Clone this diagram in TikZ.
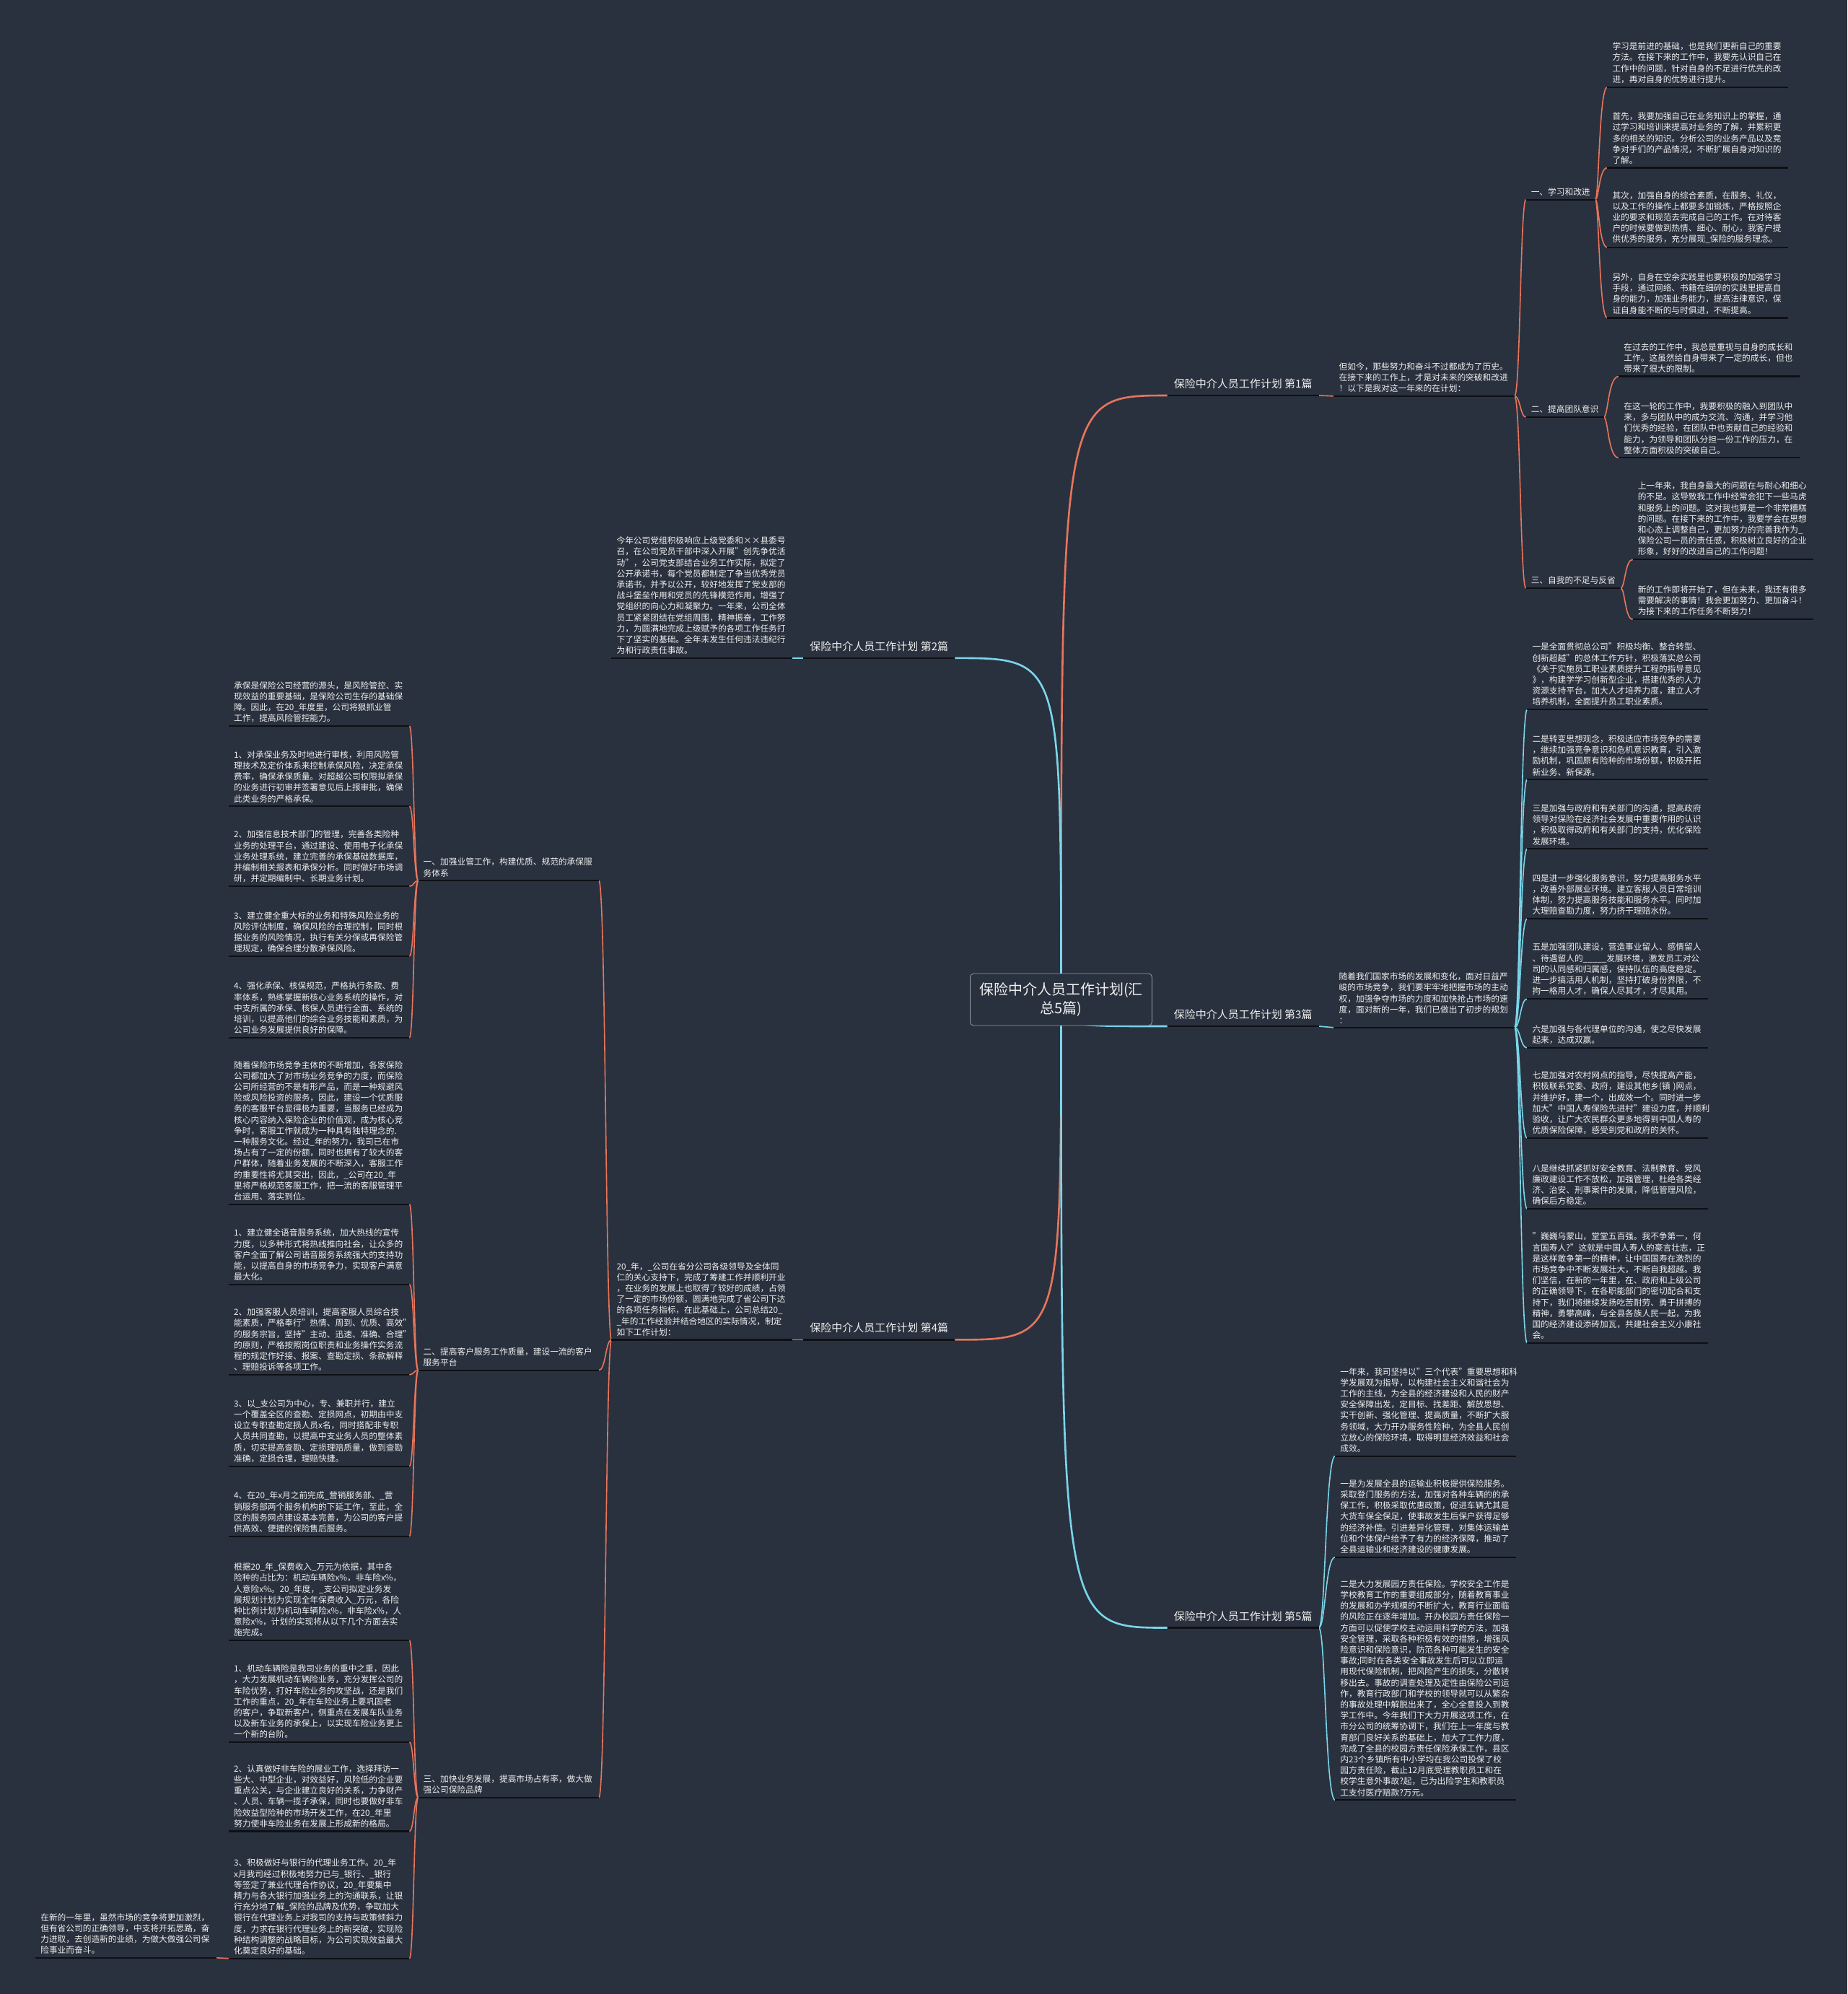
\documentclass[tikz,border=0pt]{standalone}
\usepackage{fontspec}
\setmainfont{Noto Sans CJK SC}
\definecolor{bgc}{RGB}{42,49,62}
\definecolor{txtc}{RGB}{238,238,238}
\definecolor{ulc}{RGB}{14,16,21}
\definecolor{coral}{RGB}{232,117,92}
\definecolor{skyc}{RGB}{122,214,234}
\definecolor{boxc}{RGB}{150,156,165}
\pgfdeclarelayer{back}
\pgfdeclarelayer{links}
\pgfsetlayers{back,links,main}
\tikzset{
  uline/.style={draw=ulc, line width=2.2pt},
  txt/.style={
    font=\fontsize{11.7pt}{15.2pt}\selectfont,
    text=txtc, align=left, inner xsep=7pt, inner ysep=5pt,
    append after command={(\tikzlastnode.south west) edge[uline] (\tikzlastnode.south east)}
  },
  leaf/.style={txt, text width=236pt},
  title/.style={
    font=\fontsize{15pt}{18pt}\selectfont,
    text=txtc, inner xsep=9pt, inner ysep=9pt,
    append after command={(\tikzlastnode.south west) edge[uline] (\tikzlastnode.south east)}
  },
  rootbox/.style={
    draw=boxc, line width=0.8pt, fill=bgc, rounded corners=5pt,
    text=txtc, font=\fontsize{20pt}{26pt}\selectfont, align=center,
    minimum width=252pt, minimum height=72pt, inner sep=4pt
  },
  redmain/.style={draw=coral, line width=2.6pt},
  redsub/.style={draw=coral, line width=1.6pt},
  bluemain/.style={draw=skyc, line width=2.6pt},
  bluesub/.style={draw=skyc, line width=1.6pt}
}
\begin{document}
\begin{tikzpicture}[x=1.762pt, y=-1.762pt]
  \useasboundingbox (0,0) rectangle (1453,1568);
  \begin{pgfonlayer}{back}
    \fill[bgc] (0,0) rectangle (1453,1568);
  \end{pgfonlayer}

  % Central topic
  \node[rootbox] (root) at (834.5,786) {保险中介人员工作计划(汇\\总5篇)};

  % Part 1 (upper right)
  \node[title, anchor=south west] (p1) at (918,311) {保险中介人员工作计划 第1篇};
  \node[leaf, anchor=south west] (p1i) at (1049,311.5) {但如今，那些努力和奋斗不过都成为了历史。\\在接下来的工作上，才是对未来的突破和改进\\！以下是我对这一年来的在计划：};
  \node[txt, anchor=south west] (s11) at (1200,157) {一、学习和改进};
  \node[txt, anchor=south west] (s12) at (1200,328) {二、提高团队意识};
  \node[txt, anchor=south west] (s13) at (1200,462.5) {三、自我的不足与反省};

  \node[leaf, anchor=south west] (l111) at (1264,68.5) {学习是前进的基础，也是我们更新自己的重要\\方法。在接下来的工作中，我要先认识自己在\\工作中的问题，针对自身的不足进行优先的改\\进，再对自身的优势进行提升。};
  \node[leaf, anchor=south west] (l112) at (1264,132) {首先，我要加强自己在业务知识上的掌握，通\\过学习和培训来提高对业务的了解，并累积更\\多的相关的知识。分析公司的业务产品以及竞\\争对手们的产品情况，不断扩展自身对知识的\\了解。};
  \node[leaf, anchor=south west] (l113) at (1264,194.5) {其次，加强自身的综合素质，在服务、礼仪，\\以及工作的操作上都要多加锻炼，严格按照企\\业的要求和规范去完成自己的工作。在对待客\\户的时候要做到热情、细心、耐心，我客户提\\供优秀的服务，充分展现\_保险的服务理念。};
  \node[leaf, anchor=south west] (l114) at (1264,250) {另外，自身在空余实践里也要积极的加强学习\\手段，通过网络、书籍在细碎的实践里提高自\\身的能力，加强业务能力，提高法律意识，保\\证自身能不断的与时俱进，不断提高。};
  \node[leaf, anchor=south west] (l121) at (1273,296) {在过去的工作中，我总是重视与自身的成长和\\工作。这虽然给自身带来了一定的成长，但也\\带来了很大的限制。};
  \node[leaf, anchor=south west] (l122) at (1273,360) {在这一轮的工作中，我要积极的融入到团队中\\来，多与团队中的成为交流、沟通，并学习他\\们优秀的经验，在团队中也贡献自己的经验和\\能力，为领导和团队分担一份工作的压力，在\\整体方面积极的突破自己。};
  \node[leaf, anchor=south west] (l131) at (1284,440) {上一年来，我自身最大的问题在与耐心和细心\\的不足。这导致我工作中经常会犯下一些马虎\\和服务上的问题。这对我也算是一个非常糟糕\\的问题。在接下来的工作中，我要学会在思想\\和心态上调整自己，更加努力的完善我作为\_\\保险公司一员的责任感，积极树立良好的企业\\形象，好好的改进自己的工作问题！};
  \node[leaf, anchor=south west] (l132) at (1284,487) {新的工作即将开始了，但在未来，我还有很多\\需要解决的事情！我会更加努力、更加奋斗！\\为接下来的工作任务不断努力！};

  % Part 2 (upper left)
  \node[title, anchor=south east] (p2) at (751,517.5) {保险中介人员工作计划 第2篇};
  \node[leaf, anchor=south east] (p2i) at (623,517.5) {今年公司党组积极响应上级党委和××县委号\\召，在公司党员干部中深入开展"创先争优活\\动"，公司党支部结合业务工作实际，拟定了\\公开承诺书，每个党员都制定了争当优秀党员\\承诺书，并予以公开，较好地发挥了党支部的\\战斗堡垒作用和党员的先锋模范作用，增强了\\党组织的向心力和凝聚力。一年来，公司全体\\员工紧紧团结在党组周围，精神振奋，工作努\\力，为圆满地完成上级赋予的各项工作任务打\\下了坚实的基础。全年未发生任何违法违纪行\\为和行政责任事故。};

  % Part 3 (middle right)
  \node[title, anchor=south west] (p3) at (918,807) {保险中介人员工作计划 第3篇};
  \node[leaf, anchor=south west] (p3i) at (1049,808) {随着我们国家市场的发展和变化，面对日益严\\峻的市场竞争，我们要牢牢地把握市场的主动\\权，加强争夺市场的力度和加快抢占市场的速\\度，面对新的一年，我们已做出了初步的规划\\：};
  \node[leaf, anchor=south west] (l31) at (1201,558) {一是全面贯彻总公司"积极均衡、整合转型、\\创新超越"的总体工作方针，积极落实总公司\\《关于实施员工职业素质提升工程的指导意见\\》，构建学学习创新型企业，搭建优秀的人力\\资源支持平台，加大人才培养力度，建立人才\\培养机制，全面提升员工职业素质。};
  \node[leaf, anchor=south west] (l32) at (1201,613) {二是转变思想观念，积极适应市场竞争的需要\\，继续加强竞争意识和危机意识教育，引入激\\励机制，巩固原有险种的市场份额，积极开拓\\新业务、新保源。};
  \node[leaf, anchor=south west] (l33) at (1201,667.5) {三是加强与政府和有关部门的沟通，提高政府\\领导对保险在经济社会发展中重要作用的认识\\，积极取得政府和有关部门的支持，优化保险\\发展环境。};
  \node[leaf, anchor=south west] (l34) at (1201,722.5) {四是进一步强化服务意识，努力提高服务水平\\，改善外部展业环境。建立客服人员日常培训\\体制，努力提高服务技能和服务水平。同时加\\大理赔查勘力度，努力挤干理赔水份。};
  \node[leaf, anchor=south west] (l35) at (1201,785.5) {五是加强团队建设，营造事业留人、感情留人\\、待遇留人的\_\_\_\_\_发展环境，激发员工对公\\司的认同感和归属感，保持队伍的高度稳定。\\进一步搞活用人机制，坚持打破身份界限，不\\拘一格用人才，确保人尽其才，才尽其用。};
  \node[leaf, anchor=south west] (l36) at (1201,824) {六是加强与各代理单位的沟通，使之尽快发展\\起来，达成双赢。};
  \node[leaf, anchor=south west] (l37) at (1201,895) {七是加强对农村网点的指导，尽快提高产能，\\积极联系党委、政府，建设其他乡(镇 )网点，\\并维护好，建一个，出成效一个。同时进一步\\加大"中国人寿保险先进村"建设力度，并顺利\\验收，让广大农民群众更多地得到中国人寿的\\优质保险保障，感受到党和政府的关怀。};
  \node[leaf, anchor=south west] (l38) at (1201,950.5) {八是继续抓紧抓好安全教育、法制教育、党风\\廉政建设工作不放松，加强管理，杜绝各类经\\济、治安、刑事案件的发展，降低管理风险，\\确保后方稳定。};
  \node[leaf, anchor=south west] (l39) at (1201,1056) {"巍巍乌蒙山，堂堂五百强。我不争第一，何\\言国寿人?"这就是中国人寿人的豪言壮志，正\\是这样敢争第一的精神，让中国国寿在激烈的\\市场竞争中不断发展壮大，不断自我超越。我\\们坚信，在新的一年里，在、政府和上级公司\\的正确领导下，在各职能部门的密切配合和支\\持下，我们将继续发扬吃苦耐劳、勇于拼搏的\\精神，勇攀高峰，与全县各族人民一起，为我\\国的经济建设添砖加瓦，共建社会主义小康社\\会。};

  % Part 4 (lower left)
  \node[title, anchor=south east] (p4) at (751,1053.5) {保险中介人员工作计划 第4篇};
  \node[leaf, anchor=south east] (p4i) at (623,1053.5) {20\_年，\_公司在省分公司各级领导及全体同\\仁的关心支持下，完成了筹建工作并顺利开业\\，在业务的发展上也取得了较好的成绩，占领\\了一定的市场份额，圆满地完成了省公司下达\\的各项任务指标，在此基础上，公司总结20\_\\\_年的工作经验并结合地区的实际情况，制定\\如下工作计划：};
  \node[leaf, anchor=south east] (s41) at (471,692.5) {一、加强业管工作，构建优质、规范的承保服\\务体系};
  \node[leaf, anchor=south east] (s42) at (471,1077.5) {二、提高客户服务工作质量，建设一流的客户\\服务平台};
  \node[leaf, anchor=south east] (s43) at (471,1413.5) {三、加快业务发展，提高市场占有率，做大做\\强公司保险品牌};

  \node[leaf, anchor=south east] (l411) at (322,571) {承保是保险公司经营的源头，是风险管控、实\\现效益的重要基础，是保险公司生存的基础保\\障。因此，在20\_年度里，公司将狠抓业管\\工作，提高风险管控能力。};
  \node[leaf, anchor=south east] (l412) at (322,634) {1、对承保业务及时地进行审核，利用风险管\\理技术及定价体系来控制承保风险，决定承保\\费率，确保承保质量。对超越公司权限拟承保\\的业务进行初审并签署意见后上报审批，确保\\此类业务的严格承保。};
  \node[leaf, anchor=south east] (l413) at (322,697) {2、加强信息技术部门的管理，完善各类险种\\业务的处理平台，通过建设、使用电子化承保\\业务处理系统，建立完善的承保基础数据库，\\并编制相关报表和承保分析。同时做好市场调\\研，并定期编制中、长期业务计划。};
  \node[leaf, anchor=south east] (l414) at (322,752) {3、建立健全重大标的业务和特殊风险业务的\\风险评估制度，确保风险的合理控制，同时根\\据业务的风险情况，执行有关分保或再保险管\\理规定，确保合理分散承保风险。};
  \node[leaf, anchor=south east] (l415) at (322,816) {4、强化承保、核保规范，严格执行条款、费\\率体系，熟练掌握新核心业务系统的操作，对\\中支所属的承保、核保人员进行全面、系统的\\培训，以提高他们的综合业务技能和素质，为\\公司业务发展提供良好的保障。};

  \node[leaf, anchor=south east] (l421) at (322,947) {随着保险市场竞争主体的不断增加，各家保险\\公司都加大了对市场业务竞争的力度，而保险\\公司所经营的不是有形产品，而是一种规避风\\险或风险投资的服务，因此，建设一个优质服\\务的客服平台显得极为重要，当服务已经成为\\核心内容纳入保险企业的价值观，成为核心竞\\争时，客服工作就成为一种具有独特理念的.\\一种服务文化。经过\_年的努力，我司已在市\\场占有了一定的份额，同时也拥有了较大的客\\户群体，随着业务发展的不断深入，客服工作\\的重要性将尤其突出，因此，\_公司在20\_年\\里将严格规范客服工作，把一流的客服管理平\\台运用、落实到位。};
  \node[leaf, anchor=south east] (l422) at (322,1010) {1、建立健全语音服务系统，加大热线的宣传\\力度，以多种形式将热线推向社会，让众多的\\客户全面了解公司语音服务系统强大的支持功\\能，以提高自身的市场竞争力，实现客户满意\\最大化。};
  \node[leaf, anchor=south east] (l423) at (322,1081) {2、加强客服人员培训，提高客服人员综合技\\能素质，严格奉行"热情、周到、优质、高效"\\的服务宗旨，坚持"主动、迅速、准确、合理"\\的原则，严格按照岗位职责和业务操作实务流\\程的规定作好接、报案、查勘定损、条款解释\\、理赔投诉等各项工作。};
  \node[leaf, anchor=south east] (l424) at (322,1153) {3、以\_支公司为中心，专、兼职并行，建立\\一个覆盖全区的查勘、定损网点，初期由中支\\设立专职查勘定损人员x名，同时搭配非专职\\人员共同查勘，以提高中支业务人员的整体素\\质，切实提高查勘、定损理赔质量，做到查勘\\准确，定损合理，理赔快捷。};
  \node[leaf, anchor=south east] (l425) at (322,1208) {4、在20\_年x月之前完成\_营销服务部、\_营\\销服务部两个服务机构的下延工作，至此，全\\区的服务网点建设基本完善，为公司的客户提\\供高效、便捷的保险售后服务。};

  \node[leaf, anchor=south east] (l431) at (322,1290) {根据20\_年\_保费收入\_万元为依据，其中各\\险种的占比为：机动车辆险x\%，非车险x\%，\\人意险x\%。20\_年度，\_支公司拟定业务发\\展规划计划为实现全年保费收入\_万元，各险\\种比例计划为机动车辆险x\%，非车险x\%，人\\意险x\%，计划的实现将从以下几个方面去实\\施完成。};
  \node[leaf, anchor=south east] (l432) at (322,1370) {1、机动车辆险是我司业务的重中之重，因此\\，大力发展机动车辆险业务，充分发挥公司的\\车险优势，打好车险业务的攻坚战，还是我们\\工作的重点，20\_年在车险业务上要巩固老\\的客户，争取新客户，侧重点在发展车队业务\\以及新车业务的承保上，以实现车险业务更上\\一个新的台阶。};
  \node[leaf, anchor=south east] (l433) at (322,1440) {2、认真做好非车险的展业工作，选择拜访一\\些大、中型企业，对效益好，风险低的企业要\\重点公关，与企业建立良好的关系，力争财产\\、人员、车辆一揽子承保，同时也要做好非车\\险效益型险种的市场开发工作，在20\_年里\\努力使非车险业务在发展上形成新的格局。};
  \node[leaf, anchor=south east] (l434) at (322,1540) {3、积极做好与银行的代理业务工作。20\_年\\x月我司经过积极地努力已与\_银行、\_银行\\等签定了兼业代理合作协议，20\_年要集中\\精力与各大银行加强业务上的沟通联系，让银\\行充分地了解\_保险的品牌及优势，争取加大\\银行在代理业务上对我司的支持与政策倾斜力\\度，力求在银行代理业务上的新突破，实现险\\种结构调整的战略目标，为公司实现效益最大\\化奠定良好的基础。};
  \node[leaf, anchor=south east] (bl) at (170,1539.5) {在新的一年里，虽然市场的竞争将更加激烈，\\但有省公司的正确领导，中支将开拓思路，奋\\力进取，去创造新的业绩，为做大做强公司保\\险事业而奋斗。};

  % Part 5 (lower right)
  \node[title, anchor=south west] (p5) at (918,1280) {保险中介人员工作计划 第5篇};
  \node[leaf, anchor=south west] (l51) at (1050,1145) {一年来，我司坚持以"三个代表"重要思想和科\\学发展观为指导，以构建社会主义和谐社会为\\工作的主线，为全县的经济建设和人民的财产\\安全保障出发，定目标、找差距、解放思想、\\实干创新、强化管理、提高质量，不断扩大服\\务领域，大力开办服务性险种，为全县人民创\\立放心的保险环境，取得明显经济效益和社会\\成效。};
  \node[leaf, anchor=south west] (l52) at (1050,1224.5) {一是为发展全县的运输业积极提供保险服务。\\采取登门服务的方法，加强对各种车辆的的承\\保工作，积极采取优惠政策，促进车辆尤其是\\大货车保全保足，使事故发生后保户获得足够\\的经济补偿。引进差异化管理，对集体运输单\\位和个体保户给予了有力的经济保障，推动了\\全县运输业和经济建设的健康发展。};
  \node[leaf, anchor=south west] (l53) at (1050,1415.5) {二是大力发展园方责任保险。学校安全工作是\\学校教育工作的重要组成部分，随着教育事业\\的发展和办学规模的不断扩大，教育行业面临\\的风险正在逐年增加。开办校园方责任保险一\\方面可以促使学校主动运用科学的方法，加强\\安全管理，采取各种积极有效的措施，增强风\\险意识和保险意识，防范各种可能发生的安全\\事故;同时在各类安全事故发生后可以立即运\\用现代保险机制，把风险产生的损失，分散转\\移出去。事故的调查处理及定性由保险公司运\\作，教育行政部门和学校的领导就可以从繁杂\\的事故处理中解脱出来了，全心全意投入到教\\学工作中。今年我们下大力开展这项工作，在\\市分公司的统筹协调下，我们在上一年度与教\\育部门良好关系的基础上，加大了工作力度，\\完成了全县的校园方责任保险承保工作，县区\\内23个乡镇所有中小学均在我公司投保了校\\园方责任险，截止12月底受理教职员工和在\\校学生意外事故?起，已为出险学生和教职员\\工支付医疗赔款?万元。};

  % Connectors, kept under the nodes
  \begin{pgfonlayer}{links}
    \draw[redmain] (root.center) .. controls (root.center |- p1.south west) .. (p1.south west);
    \draw[bluemain] (root.center) .. controls (root.center |- p2.south east) .. (p2.south east);
    \draw[bluemain] (root.center) .. controls (root.center |- p3.south west) .. (p3.south west);
    \draw[redmain] (root.center) .. controls (root.center |- p4.south east) .. (p4.south east);
    \draw[bluemain] (root.center) .. controls (root.center |- p5.south west) .. (p5.south west);

    \draw[redsub] (p1.south east) -- (p1i.south west);
    \draw[bluesub] (p2.south west) -- (p2i.south east);
    \draw[bluesub] (p3.south east) -- (p3i.south west);
    \draw[redsub] (p4.south west) -- (p4i.south east);
    \draw[redsub] (l434.south west) -- (bl.south east);

    % right-hand brackets
    \coordinate (j1) at ([xshift=8pt]p1i.south east);
    \foreach \c in {s11,s12,s13}
      \draw[redsub] (p1i.south east) .. controls (j1) and (j1 |- \c.south west) .. (\c.south west);
    \coordinate (j11) at ([xshift=5pt]s11.south east);
    \foreach \c in {l111,l112,l113,l114}
      \draw[redsub] (s11.south east) .. controls (j11) and (j11 |- \c.south west) .. (\c.south west);
    \coordinate (j12) at ([xshift=6pt]s12.south east);
    \foreach \c in {l121,l122}
      \draw[redsub] (s12.south east) .. controls (j12) and (j12 |- \c.south west) .. (\c.south west);
    \coordinate (j13) at ([xshift=6pt]s13.south east);
    \foreach \c in {l131,l132}
      \draw[redsub] (s13.south east) .. controls (j13) and (j13 |- \c.south west) .. (\c.south west);
    \coordinate (j3) at ([xshift=8pt]p3i.south east);
    \foreach \c in {l31,l32,l33,l34,l35,l36,l37,l38,l39}
      \draw[bluesub] (p3i.south east) .. controls (j3) and (j3 |- \c.south west) .. (\c.south west);
    \coordinate (j5) at ([xshift=9pt]p5.south east);
    \foreach \c in {l51,l52,l53}
      \draw[bluesub] (p5.south east) .. controls (j5) and (j5 |- \c.south west) .. (\c.south west);

    % left-hand brackets
    \coordinate (j4) at ([xshift=-8pt]p4i.south west);
    \foreach \c in {s41,s42,s43}
      \draw[redsub] (p4i.south west) .. controls (j4) and (j4 |- \c.south east) .. (\c.south east);
    \coordinate (j41) at ([xshift=-6pt]s41.south west);
    \foreach \c in {l411,l412,l413,l414,l415}
      \draw[redsub] (s41.south west) .. controls (j41) and (j41 |- \c.south east) .. (\c.south east);
    \coordinate (j42) at ([xshift=-6pt]s42.south west);
    \foreach \c in {l421,l422,l423,l424,l425}
      \draw[redsub] (s42.south west) .. controls (j42) and (j42 |- \c.south east) .. (\c.south east);
    \coordinate (j43) at ([xshift=-6pt]s43.south west);
    \foreach \c in {l431,l432,l433,l434}
      \draw[redsub] (s43.south west) .. controls (j43) and (j43 |- \c.south east) .. (\c.south east);
  \end{pgfonlayer}
\end{tikzpicture}
\end{document}
